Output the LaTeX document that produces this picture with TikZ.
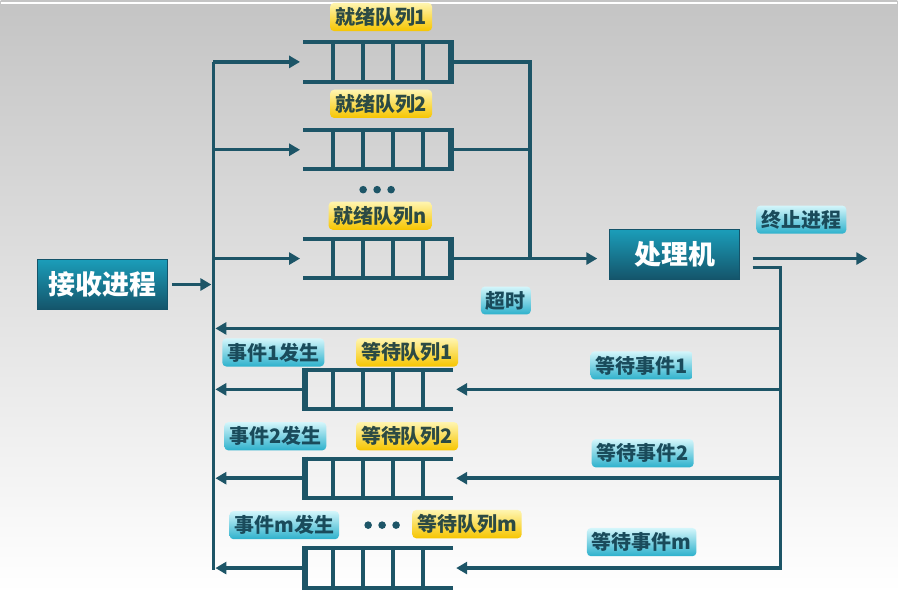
\documentclass[tikz,border=0pt]{standalone}
\usepackage{fontspec}
\setmainfont{Noto Sans CJK SC}
\usetikzlibrary{arrows.meta, calc, positioning}
\definecolor{lc}{HTML}{1D5567}
\definecolor{boxtop}{HTML}{1B9DB9}
\definecolor{boxbot}{HTML}{14546A}
\definecolor{yeltop}{HTML}{FFF5B0}
\definecolor{yelbot}{HTML}{F6C500}
\definecolor{yeltext}{HTML}{2C4A44}
\definecolor{cyantop}{HTML}{D4F6FB}
\definecolor{cyanbot}{HTML}{2DB1CC}
\definecolor{cyantext}{HTML}{1A4B5B}
\definecolor{bgtop}{HTML}{C4C4C4}
\definecolor{bgmid}{HTML}{D9D9D9}

\begin{document}
\begin{tikzpicture}[x=1pt, y=-1pt,
  flow/.style={draw=lc, line width=3.5pt},
  arr/.style={flow, -{Triangle[length=11pt,width=12pt]}},
  queue/.style={minimum width=150pt, minimum height=39pt, inner sep=0pt},
  cell/.style={draw=lc, line width=4pt},
  proc/.style={top color=boxtop, bottom color=boxbot, draw=boxbot, line width=1pt,
    minimum width=130pt, minimum height=50pt, text=white,
    font=\fontsize{27}{27}\selectfont\bfseries},
  ylab/.style={rounded corners=4pt, top color=yeltop, bottom color=yelbot, text=yeltext,
    inner xsep=5pt, inner ysep=4.5pt, font=\fontsize{20}{20}\selectfont\bfseries},
  clab/.style={ylab, top color=cyantop, bottom color=cyanbot, text=cyantext}
]
  % background
  \shade[top color=bgtop, middle color=bgmid, bottom color=white] (0,0) rectangle (898,593);
  \draw[white, line width=1.5pt] (0,3) -- (898,3);
  \useasboundingbox (0,0) rectangle (898,593);

  % boxes
  \node[proc] (recv) at (102,285) {接收进程};
  \node[proc] (cpu) at (675,255) {处理机};

  % ready queues
  \node[queue] (r1) at (378,62) {};
  \node[queue] (r2) at (378,150) {};
  \node[queue] (rn) at (378,259) {};
  \foreach \q in {r1,r2,rn} {
    \draw[cell] (\q.north west) -- (\q.north east) (\q.south west) -- (\q.south east);
    \foreach \i in {1,...,4}
      \draw[cell] ($(\q.north west)!\i/5!(\q.north east)$) -- ($(\q.south west)!\i/5!(\q.south east)$);
    \draw[lc, line width=6pt] ([xshift=-2pt,yshift=2pt]\q.north east) -- ([xshift=-2pt,yshift=-2pt]\q.south east);
  }

  % waiting queues
  \node[queue] (w1) at (378,390) {};
  \node[queue] (w2) at (378,479) {};
  \node[queue] (wm) at (378,569) {};
  \foreach \q in {w1,w2,wm} {
    \draw[cell] (\q.north west) -- (\q.north east) (\q.south west) -- (\q.south east);
    \foreach \i in {1,...,4}
      \draw[cell] ($(\q.north west)!\i/5!(\q.north east)$) -- ($(\q.south west)!\i/5!(\q.south east)$);
    \draw[lc, line width=6pt] ([xshift=2pt,yshift=2pt]\q.north west) -- ([xshift=2pt,yshift=-2pt]\q.south west);
  }

  % dots
  \foreach \i in {0,1,2} {
    \fill[lc] (363+\i*14,190) circle (3.8pt);
    \fill[lc] (368+\i*14,526) circle (3.8pt);
  }

  % connectors
  \coordinate (busT) at (213,62);
  \coordinate (busB) at (213,571);
  \coordinate (rj) at (530,62);
  \coordinate (o1) at (753,259);
  \coordinate (o2) at (753,268);
  \coordinate (rt) at (781,268);
  \coordinate (rb) at (781,571);
  \coordinate (tmo) at (781,329);
  \coordinate (exit) at (868,259);

  \draw[flow] (busT) -- (busB);
  \draw[arr, shorten >=2pt] ([xshift=4pt]recv.east) -- (busT |- recv.east);
  \foreach \q in {r1,r2,rn}
    \draw[arr, shorten >=3pt] (busT |- \q.west) -- (\q.west);
  \draw[flow] (r1.east) -- (r1.east -| rj) -- (rn.east -| rj);
  \draw[flow] (r2.east) -- (r2.east -| rj);
  \draw[arr, shorten >=12pt] (rn.east) -- (cpu.west |- rn.east);
  \draw[arr] (o1) -- (exit);
  \draw[flow] (o2) -- (rt) -- (rb);
  \draw[arr, shorten >=2pt] (tmo) -- (busT |- tmo);
  \foreach \q in {w1,w2,wm} {
    \draw[arr] (rt |- \q.east) -- ([xshift=3pt]\q.east);
    \draw[arr, shorten >=2pt] (\q.west) -- (busT |- \q.west);
  }

  % labels
  \node[ylab] (tr1) at (381,17) {就绪队列1};
  \node[ylab] (tr2) at (381,104) {就绪队列2};
  \node[ylab] (trn) at (380,216) {就绪队列n};
  \node[clab] (tend) at (802,220) {终止进程};
  \node[clab] (ttmo) at (506,301) {超时};
  \node[clab] (te1) at (273,353) {事件1发生};
  \node[ylab] (tw1) at (407,353) {等待队列1};
  \node[clab] (tq1) at (642,366) {等待事件1};
  \node[clab] (te2) at (275,437) {事件2发生};
  \node[ylab] (tw2) at (407,437) {等待队列2};
  \node[clab] (tq2) at (643,454) {等待事件2};
  \node[clab] (tem) at (284,526) {事件m发生};
  \node[ylab] (twm) at (467,525) {等待队列m};
  \node[clab] (tqm) at (642,543) {等待事件m};
\end{tikzpicture}
\end{document}
